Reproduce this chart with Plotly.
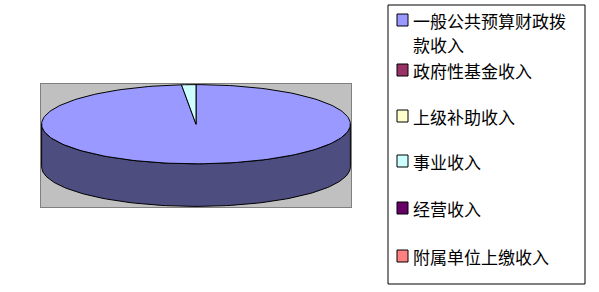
import numpy as np
import plotly.graph_objects as go

# ---- data ----
categories = ["一般公共预算财政拨款收入", "政府性基金收入", "上级补助收入",
              "事业收入", "经营收入", "附属单位上缴收入"]
legend_lines = [["一般公共预算财政拨", "款收入"], ["政府性基金收入"], ["上级补助收入"],
                ["事业收入"], ["经营收入"], ["附属单位上缴收入"]]
values = [98.5, 0, 0, 1.5, 0, 0]
top_colors = ["#9999FF", "#993366", "#FFFFCC", "#CCFFFF", "#660066", "#FF8080"]
side_colors = ["#4D4D80", "#4D1A33", "#808066", "#668080", "#330033", "#804040"]

# ---- geometry / style ----
W, H = 599, 292
PL, PR, PT, PB = 41, 351, 84, 207          # plot area in pixels
RX = 1.0
RY = 40 / 155
DEPTH = 43 / 155
FONT = "Noto Sans CJK SC"
FSIZE = 17


def px_to_paper(x, y):
    return (x - PL) / (PR - PL), (PB - y) / (PB - PT)


def ell(theta):
    return RX * np.sin(theta), RY * np.cos(theta)


fig = go.Figure()

total = sum(values)
angles = []
start = 0.0
for v in values:
    sweep = 2 * np.pi * v / total
    angles.append((start, start + sweep))
    start += sweep

# side faces (front half: theta in [pi/2, 3pi/2])
for (a, b), v, sc in zip(angles, values, side_colors):
    if v <= 0:
        continue
    lo, hi = max(a, np.pi / 2), min(b, 3 * np.pi / 2)
    if hi <= lo:
        continue
    t = np.linspace(lo, hi, 120)
    x, y = ell(t)
    xs = np.concatenate([x, x[::-1], x[:1]])
    ys = np.concatenate([y, y[::-1] - DEPTH, y[:1]])
    fig.add_trace(go.Scatter(x=xs, y=ys, mode="lines", fill="toself",
                             fillcolor=sc, line=dict(color="black", width=1),
                             hoverinfo="skip", showlegend=False))

# top faces
for (a, b), v, tc, name in zip(angles, values, top_colors, categories):
    if v <= 0:
        continue
    t = np.linspace(a, b, max(3, int(200 * (b - a) / (2 * np.pi)) + 3))
    x, y = ell(t)
    xs = np.concatenate([[0], x, [0]])
    ys = np.concatenate([[0], y, [0]])
    fig.add_trace(go.Scatter(x=xs, y=ys, mode="lines", fill="toself",
                             fillcolor=tc, line=dict(color="black", width=1),
                             name=name, hoverinfo="name", showlegend=False))

# ---- manual legend ----
shapes = []
annotations = []
bx0, by0 = px_to_paper(388, 5)
bx1, by1 = px_to_paper(585, 284)
shapes.append(dict(type="rect", xref="paper", yref="paper", x0=bx0, y0=by1, x1=bx1, y1=by0,
                   line=dict(color="black", width=1), fillcolor="white", layer="above"))
item_y = [20, 70, 116, 161, 208, 256]
for lines, col, yc in zip(legend_lines, top_colors, item_y):
    mx0, my0 = px_to_paper(397, yc - 6)
    mx1, my1 = px_to_paper(408, yc + 6)
    shapes.append(dict(type="rect", xref="paper", yref="paper", x0=mx0, y0=my1, x1=mx1, y1=my0,
                       line=dict(color="black", width=1), fillcolor=col, layer="above"))
    for i, ln in enumerate(lines):
        tx, ty = px_to_paper(411, yc + 25 * i)
        annotations.append(dict(text=ln, x=tx, y=ty, xref="paper", yref="paper",
                                xanchor="left", yanchor="middle", showarrow=False,
                                font=dict(family=FONT, size=FSIZE, color="black")))

fig.update_layout(
    width=W, height=H,
    margin=dict(l=PL, r=W - PR, t=PT, b=H - PB, pad=0),
    paper_bgcolor="white", plot_bgcolor="#C0C0C0",
    showlegend=False,
    xaxis=dict(range=[-1.004, 1.004], showgrid=False, zeroline=False, showticklabels=False,
               ticks="", showline=True, mirror=True, linecolor="#808080", linewidth=1,
               fixedrange=True),
    yaxis=dict(range=[-RY - DEPTH - 0.004, RY + 0.004], showgrid=False, zeroline=False,
               showticklabels=False, ticks="", showline=True, mirror=True,
               linecolor="#808080", linewidth=1, fixedrange=True),
    shapes=shapes, annotations=annotations,
)

fig.write_html("out.html")
